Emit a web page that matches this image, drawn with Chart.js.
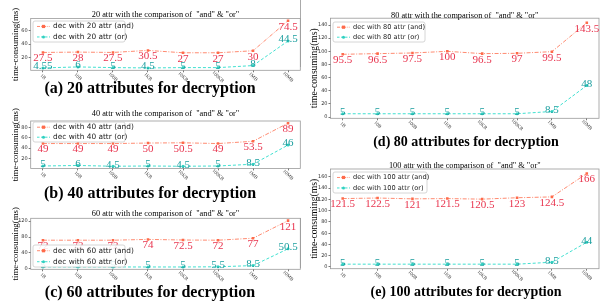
<!DOCTYPE html>
<html><head><meta charset="utf-8">
<script src="https://cdn.jsdelivr.net/npm/chart.js@4.4.1/dist/chart.umd.min.js"></script>
<style>
html,body{margin:0;padding:0;background:#fff;}
#wrap{position:relative;width:603px;height:303px;overflow:hidden;background:#fff;}
canvas{position:absolute;left:0;top:0;}
.cap{position:absolute;font-family:"Liberation Serif","Times New Roman",serif;font-weight:bold;white-space:nowrap;transform:translate(-50%,-50%);color:#000;line-height:1;}
.vl{position:absolute;left:300px;width:1px;background:#aaa;}
</style></head><body>
<div id="wrap">
<div class="vl" style="top:0;height:67px"></div>
<div class="vl" style="top:218px;height:50px"></div>
<canvas id="ca" width="603" height="303"></canvas>
<canvas id="cb" width="603" height="303"></canvas>
<canvas id="cc" width="603" height="303"></canvas>
<canvas id="cd" width="603" height="303"></canvas>
<canvas id="ce" width="603" height="303"></canvas>
<div class="cap" style="left:150px;top:88px;font-size:16px">(a) 20 attributes for decryption</div>
<div class="cap" style="left:150px;top:193px;font-size:16px">(b) 40 attributes for decryption</div>
<div class="cap" style="left:150px;top:292px;font-size:16px">(c) 60 attributes for decryption</div>
<div class="cap" style="left:466px;top:142px;font-size:14px">(d) 80 attributes for decryption</div>
<div class="cap" style="left:466px;top:292px;font-size:14px">(e) 100 attributes for decryption</div>
</div>
<script>
// ---- data ----
const categories = ['1B','10B','100B','1KB','10KB','100KB','1MB','10MB'];
const and20 = [27.5, 28, 27.5, 30.5, 27, 27, 30, 74.5];
const or20  = [4.55, 6, 5, 4.5, 5, 5, 8, 44.5];
const and40 = [49, 49, 49, 50, 50.5, 49, 53.5, 89];
const or40  = [5, 6, 4.5, 5, 4.5, 5, 8.5, 46];
const and60 = [72, 72, 72, 74, 72.5, 72, 77, 121];
const or60  = [5, 5, 5, 5, 5, 5.5, 8.5, 50.5];
const and80 = [95.5, 96.5, 97.5, 100, 96.5, 97, 99.5, 143.5];
const or80  = [5, 5, 5, 5, 5, 5, 8.5, 48];
const and100 = [121.5, 122.5, 121, 121.5, 120.5, 123, 124.5, 166];
const or100  = [5, 5, 5, 5, 5, 5, 8.5, 44];
const ticks20 = [20, 40, 60];
const ticks40 = [20, 40, 60, 80];
const ticks60 = [0, 20, 40, 60, 80, 100, 120];
const ticks80 = [0, 20, 40, 60, 80, 100, 120, 140];
const ticks100 = [0, 20, 40, 60, 80, 100, 120, 140, 160];

const AND_LINE = '#ff8a70', AND_MARK = '#ff6a4a', AND_TEXT = '#e8344e';
const OR_LINE = '#40e0d0', OR_MARK = '#30d0c0', OR_TEXT = '#1a9e9e';
const SERIF = '"Liberation Serif","Times New Roman",serif';
const SANS = '"DejaVu Sans",sans-serif';
const YW = 16, XH = 4;

const panels = [
  {id:'ca', n:20, and:and20, or:or20, ticks:ticks20, area:{l:30.7,r:300.3,t:18.4,b:70.3}, titleY:14.5, yTitleX:16, yTitleSize:8.8,
   legend:{x:33,y:21,w:92,h:21,font:7.4}},
  {id:'cb', n:40, and:and40, or:or40, ticks:ticks40, area:{l:30.7,r:300.3,t:121,b:168.4}, titleY:114, yTitleX:16, yTitleSize:8.8,
   legend:{x:33,y:122,w:92,h:20,font:7.4}},
  {id:'cc', n:60, and:and60, or:or60, ticks:ticks60, area:{l:30.7,r:300.3,t:218.3,b:269.3}, titleY:214, yTitleX:16, yTitleSize:8.8,
   legend:{x:33,y:245,w:92,h:22,font:7.4}},
  {id:'cd', n:80, and:and80, or:or80, ticks:ticks80, area:{l:330.5,r:600.5,t:18.2,b:118.3}, titleY:15.5, yTitleX:314, yTitleSize:9.6,
   legend:{x:333,y:22,w:92,h:20,font:6.6}},
  {id:'ce', n:100, and:and100, or:or100, ticks:ticks100, area:{l:330.5,r:600.5,t:169,b:268.7}, titleY:165.5, yTitleX:314, yTitleSize:9.6,
   legend:{x:333,y:172,w:94,h:21,font:6.6}}
];

function drawMarker(ctx, kind, x, y){
  if(kind==='and'){
    ctx.fillStyle = AND_MARK; ctx.fillRect(x-1.6, y-1.6, 3.2, 3.2);
  } else {
    ctx.fillStyle = OR_MARK; ctx.beginPath(); ctx.arc(x, y, 1.5, 0, Math.PI*2); ctx.fill();
  }
}

const decorPlugin = {
  id: 'decor',
  beforeDatasetsDraw(chart){
    const ctx = chart.ctx, a = chart.chartArea;
    ctx.save();
    ctx.strokeStyle = '#9a9a9a'; ctx.lineWidth = 0.8;
    ctx.strokeRect(a.left, a.top, a.right-a.left, a.bottom-a.top);
    ctx.restore();
  },
  afterDatasetsDraw(chart){
    const ctx = chart.ctx, a = chart.chartArea, p = chart.options.plugins.decor.panel;
    const xs = chart.scales.x;
    ctx.save();
    // data labels
    ctx.font = '11px ' + SERIF;
    ctx.textAlign = 'center';
    chart.data.datasets.forEach((ds, di) => {
      const meta = chart.getDatasetMeta(di);
      meta.data.forEach((pt, i) => {
        const v = ds.data[i].y;
        if (di === 0) { ctx.fillStyle = AND_TEXT; ctx.textBaseline = 'top'; ctx.fillText(String(v), pt.x, pt.y + 0.5); }
        else { ctx.fillStyle = OR_TEXT; ctx.textBaseline = 'middle'; ctx.fillText(String(v), pt.x, pt.y - 1.5); }
      });
    });
    // x tick labels rotated clockwise
    ctx.fillStyle = '#333';
    ctx.font = '5px ' + SERIF;
    ctx.textBaseline = 'middle'; ctx.textAlign = 'center';
    categories.forEach((c, i) => {
      const x = xs.getPixelForValue(i);
      ctx.save(); ctx.translate(x, a.bottom + 6.5); ctx.rotate(Math.PI/4); ctx.fillText(c, 0, 0); ctx.restore();
    });
    // title
    ctx.fillStyle = '#000';
    ctx.font = '8.3px ' + SERIF;
    ctx.fillText(p.n + ' attr with the comparison of  "and" & "or"', (a.left + a.right)/2, p.titleY);
    // y title
    ctx.save();
    ctx.font = p.yTitleSize + 'px ' + SERIF;
    ctx.translate(p.yTitleX, (a.top + a.bottom)/2); ctx.rotate(-Math.PI/2);
    ctx.fillText('time-consuming(ms)', 0, 0);
    ctx.restore();
    // legend
    const L = p.legend;
    ctx.beginPath();
    if (ctx.roundRect) ctx.roundRect(L.x, L.y, L.w, L.h, 2); else ctx.rect(L.x, L.y, L.w, L.h);
    ctx.fillStyle = 'rgba(255,255,255,0.85)'; ctx.fill();
    ctx.strokeStyle = '#cccccc'; ctx.lineWidth = 0.8; ctx.stroke();
    const rows = [L.y + L.h*0.26, L.y + L.h*0.76];
    chart.data.datasets.forEach((ds, di) => {
      const yy = rows[di];
      ctx.save();
      ctx.strokeStyle = di===0 ? AND_LINE : OR_LINE; ctx.lineWidth = 1;
      ctx.setLineDash(di===0 ? [3,1.2,0.8,1.2] : [2.5,1.5]);
      ctx.beginPath(); ctx.moveTo(L.x+4, yy); ctx.lineTo(L.x+17, yy); ctx.stroke();
      ctx.restore();
      drawMarker(ctx, di===0 ? 'and' : 'or', L.x+10.5, yy);
      ctx.fillStyle = '#222'; ctx.font = L.font + 'px ' + SANS; ctx.textAlign = 'left'; ctx.textBaseline = 'middle';
      ctx.fillText(ds.label, L.x+20, yy);
    });
    ctx.restore();
  }
};

panels.forEach(p => {
  const all = p.and.concat(p.or);
  const dmin = Math.min(...all), dmax = Math.max(...all), m = (dmax - dmin)*0.05;
  new Chart(document.getElementById(p.id), {
    type: 'line',
    data: {
      datasets: [
        {label:'dec with ' + p.n + ' attr (and)', data: p.and.map((v,i)=>({x:i,y:v})),
         borderColor: AND_LINE, borderWidth: 1, borderDash: [4,1.5,1,1.5], pointStyle:'rect', pointRadius: 1.8,
         pointBackgroundColor: AND_MARK, pointBorderColor: AND_MARK, pointBorderWidth: 0, tension: 0},
        {label:'dec with ' + p.n + ' attr (or)', data: p.or.map((v,i)=>({x:i,y:v})),
         borderColor: OR_LINE, borderWidth: 1, borderDash: [3,2], pointStyle:'circle', pointRadius: 1.5,
         pointBackgroundColor: OR_MARK, pointBorderColor: OR_MARK, pointBorderWidth: 0, tension: 0}
      ]
    },
    options: {
      responsive: false, animation: false, devicePixelRatio: 1,
      layout: {padding: {left: p.area.l - YW, top: p.area.t, right: 603 - p.area.r, bottom: 303 - p.area.b - XH}},
      plugins: {legend: {display:false}, title: {display:false}, tooltip: {enabled:false}, decor: {panel: p}},
      events: [],
      scales: {
        x: {type:'linear', min:-0.35, max:7.35,
            afterBuildTicks: s => { s.ticks = categories.map((c,i)=>({value:i})); },
            afterFit: s => { s.height = XH; },
            ticks: {display:false},
            grid: {display:true, drawOnChartArea:false, drawTicks:true, tickLength:2, color:'#555', lineWidth:0.8},
            border: {display:false}},
        y: {type:'linear', min: dmin - m, max: dmax + m,
            afterBuildTicks: s => { s.ticks = p.ticks.map(v=>({value:v})); },
            afterFit: s => { s.width = YW; },
            ticks: {font:{family:'DejaVu Sans', size:5}, color:'#333', padding:1},
            grid: {display:true, drawOnChartArea:false, drawTicks:true, tickLength:2, color:'#555', lineWidth:0.8},
            border: {display:false}}
      }
    },
    plugins: [decorPlugin]
  });
});
</script>
</body></html>
